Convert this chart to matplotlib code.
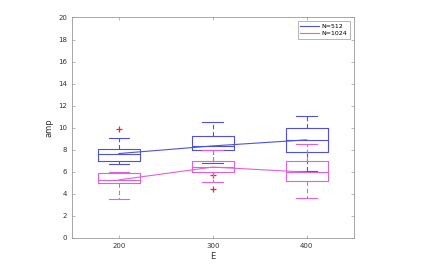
import numpy as np
import matplotlib
matplotlib.use("Agg")
import matplotlib.pyplot as plt

# energies on the x axis
E = [200, 300, 400]

# box stats for N=512
lo_512 = [6.7, 6.8, 6.1]
q1_512 = [7.0, 7.95, 7.8]
med_512 = [7.66, 8.35, 8.9]
q3_512 = [8.05, 9.25, 9.97]
hi_512 = [9.05, 10.5, 11.03]
out_512 = [[9.9], [5.7], []]

# box stats for N=1024
lo_1024 = [3.52, 5.1, 3.6]
q1_1024 = [4.95, 5.95, 5.18]
med_1024 = [5.27, 6.43, 5.97]
q3_1024 = [5.85, 6.95, 6.94]
hi_1024 = [6.0, 7.95, 8.52]
out_1024 = [[], [4.4], []]

c512 = '#5050e0'
c1024 = '#e060e0'
grey = '#999999'

def stats(lo, q1, med, q3, hi, out):
    s = []
    for i in range(len(lo)):
        s.append(dict(whislo=lo[i], q1=q1[i], med=med[i], q3=q3[i],
                      whishi=hi[i], fliers=out[i]))
    return s

fig = plt.figure(figsize=(4.26, 2.65), dpi=100)
ax = fig.add_axes([0.169, 0.102, 0.661, 0.832])

pos = np.arange(1, len(E) + 1)
for st, col in [(stats(lo_512, q1_512, med_512, q3_512, hi_512, out_512), c512),
                (stats(lo_1024, q1_1024, med_1024, q3_1024, hi_1024, out_1024), c1024)]:
    bp = ax.bxp(st, positions=pos, widths=0.45, capwidths=0.22, manage_ticks=False)
    for k in ['boxes', 'medians', 'whiskers', 'caps']:
        for a in bp[k]:
            a.set_color(col)
            a.set_linewidth(0.8)
    for a in bp['whiskers']:
        a.set_linestyle((0, (4, 2.5)))
    for a in bp['fliers']:
        a.set_marker('+')
        a.set_color('#ff2020')
        a.set_markeredgecolor('#ff2020')
        a.set_markersize(4.5)
        a.set_markeredgewidth(0.9)

l1, = ax.plot(pos, med_512, color=c512, lw=0.8)
l2, = ax.plot(pos, med_1024, color=c1024, lw=0.8)

ax.set_xlim(0.5, 3.5)
ax.set_ylim(0, 20)
ax.set_xticks(pos)
ax.set_xticklabels([str(e) for e in E])
ax.set_yticks(np.arange(0, 21, 2))
ax.tick_params(direction='in', length=2.5, width=0.5, colors=grey,
               labelcolor='#333333', labelsize=5, top=True, right=True)
for sp in ax.spines.values():
    sp.set_color(grey)
    sp.set_linewidth(0.6)

ax.set_xlabel('E', fontsize=6, color='#333333', labelpad=2)
ax.set_ylabel('amp', fontsize=6, color='#333333', labelpad=3)

leg = ax.legend([l1, l2], ['N=512', 'N=1024'], loc='upper right', fontsize=4.5,
                fancybox=False, edgecolor=grey, framealpha=1, borderaxespad=0.6,
                handlelength=3, handletextpad=0.4, borderpad=0.4, labelspacing=0.3)
leg.get_frame().set_linewidth(0.5)

fig.savefig('out.png', dpi=100)
